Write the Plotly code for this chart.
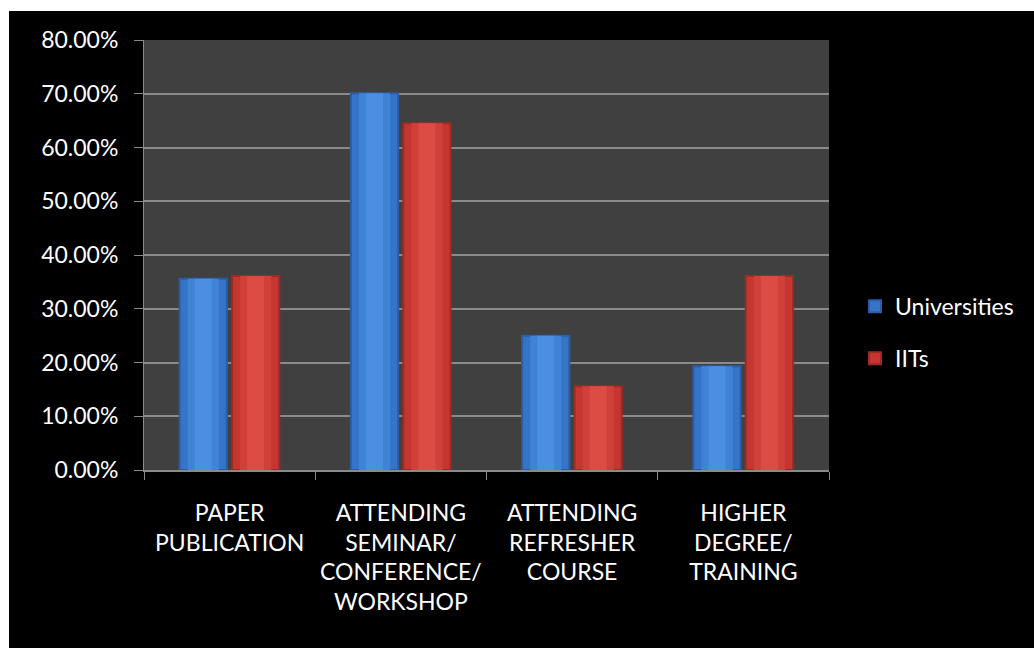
import plotly.graph_objects as go

# Survey shares per activity
categories = [
    "PAPER<br>PUBLICATION",
    "ATTENDING<br>SEMINAR/<br>CONFERENCE/<br>WORKSHOP",
    "ATTENDING<br>REFRESHER<br>COURSE",
    "HIGHER<br>DEGREE/<br>TRAINING",
]
universities = [0.356, 0.701, 0.250, 0.193]
iits = [0.361, 0.645, 0.156, 0.361]

W, H = 1034, 648
L, R, T, B = 144, 205, 40, 178
PW, PH = W - L - R, H - T - B


def px_x(p):
    return (p - L) / PW


def px_y(p):
    return 1 - (p - T) / PH


FONT = "Lato, 'Open Sans', sans-serif"

fig = go.Figure()

# (name, values, offset, shading from edge to centre)
series = [
    ("Universities", universities, -0.292,
     ("#2a5da6", "#3674c8", "#3f82d6", "#4a8fe2")),
    ("IITs", iits, 0.014,
     ("#9e2a24", "#c4362f", "#d0403a", "#dc4c45")),
]
bw = 0.276
for name, vals, off, (edge, body, mid, hi) in series:
    n = len(vals)
    fig.add_trace(go.Bar(
        x=categories, y=vals, name=name, legendgroup=name,
        offset=[off] * n, width=[bw] * n,
        marker=dict(color=body, line=dict(color=edge, width=2)),
        hoverinfo="skip",
    ))
    for frac, col in ((0.66, mid), (0.36, hi)):
        fig.add_trace(go.Bar(
            x=categories, y=vals, showlegend=False, legendgroup=name,
            offset=[off + bw * (1 - frac) / 2] * n, width=[bw * frac] * n,
            marker=dict(color=col, line=dict(width=0)),
            hoverinfo="skip",
        ))

fig.update_layout(
    width=W, height=H,
    margin=dict(l=L, r=R, t=T, b=B, autoexpand=False),
    paper_bgcolor="black",
    plot_bgcolor="#404040",
    barmode="overlay",
    font=dict(family=FONT, size=23, color="white"),
    showlegend=True,
    legend=dict(
        x=px_x(855), xanchor="left",
        y=0.32, yanchor="middle",
        bgcolor="rgba(0,0,0,0)",
        font=dict(family=FONT, size=23, color="white"),
        tracegroupgap=19,
        itemclick=False, itemdoubleclick=False,
    ),
    xaxis=dict(
        type="category",
        range=[-0.5, 3.5],
        showgrid=False,
        showline=True, linecolor="#8a8a8a", linewidth=2,
        ticks="outside", tickson="boundaries", ticklen=8,
        tickcolor="#8a8a8a", tickwidth=1,
        ticklabelstandoff=21,
        tickfont=dict(family=FONT, size=23, color="white"),
        fixedrange=True,
    ),
    yaxis=dict(
        range=[0, 0.8],
        dtick=0.1, tick0=0,
        tickformat=".2%",
        showgrid=True, gridcolor="#8a8a8a", gridwidth=2,
        zeroline=False,
        showline=True, linecolor="#8a8a8a", linewidth=1,
        ticks="outside", ticklen=9, tickcolor="#8a8a8a", tickwidth=1,
        ticklabelstandoff=11,
        tickfont=dict(family=FONT, size=23, color="white"),
        fixedrange=True,
    ),
    shapes=[
        # white page margin at the top and left of the black canvas
        dict(type="rect", xref="paper", yref="paper", layer="below",
             x0=px_x(0), x1=px_x(W), y0=px_y(11), y1=px_y(0),
             fillcolor="white", line=dict(width=0)),
        dict(type="rect", xref="paper", yref="paper", layer="below",
             x0=px_x(0), x1=px_x(9), y0=px_y(H), y1=px_y(0),
             fillcolor="white", line=dict(width=0)),
    ],
)

fig.write_html("out.html", config={"displayModeBar": False})
